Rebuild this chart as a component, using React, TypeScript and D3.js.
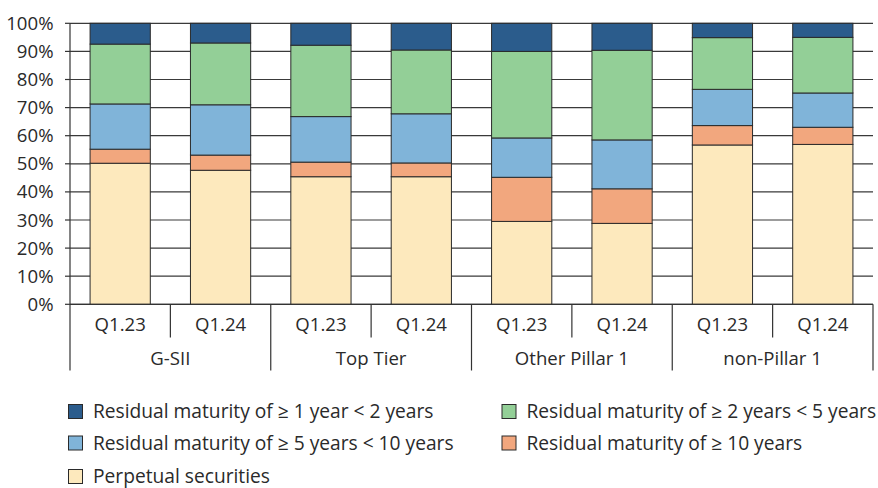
import React from "react";
import * as d3 from "d3";

const groups = ["G-SII", "Top Tier", "Other Pillar 1", "non-Pillar 1"];
const periods = ["Q1.23", "Q1.24"];
const seriesNames = [
  "Perpetual securities",
  "Residual maturity of ≥ 10 years",
  "Residual maturity of ≥ 5 years < 10 years",
  "Residual maturity of ≥ 2 years < 5 years",
  "Residual maturity of ≥ 1 year < 2 years",
];
const seriesColors = ["#fde9bd", "#f2a77e", "#80b4d9", "#93cf97", "#2b5c8c"];

// values in %, order: G-SII Q1.23, Q1.24, Top Tier Q1.23, Q1.24, Other P1 Q1.23, Q1.24, non-P1 Q1.23, Q1.24
const perpetual = [50.2, 47.7, 45.4, 45.4, 29.5, 28.8, 56.7, 56.9];
const over10 = [5.0, 5.4, 5.2, 4.9, 15.7, 12.3, 6.9, 6.1];
const from5to10 = [16.1, 17.9, 16.2, 17.5, 14.0, 17.4, 12.9, 12.2];
const from2to5 = [21.3, 22.0, 25.4, 22.7, 30.8, 31.9, 18.4, 19.8];
const from1to2 = [7.4, 7.0, 7.8, 9.5, 10.0, 9.6, 5.1, 5.0];

const yTicks = [0, 10, 20, 30, 40, 50, 60, 70, 80, 90, 100];

const legendOrder = [4, 3, 2, 1, 0];

export default function App() {
  const W = 878, H = 488;
  const left = 70, right = 873, top = 23.3, bottom = 304.3;
  const seriesData = [perpetual, over10, from5to10, from2to5, from1to2];
  const keys = groups.flatMap((g) => periods.map((p) => g + "|" + p));
  const rows = keys.map((k, i) => {
    const r: any = { key: k };
    seriesData.forEach((s, j) => (r["s" + j] = s[i]));
    return r;
  });
  const stack = d3.stack().keys(seriesData.map((_, j) => "s" + j));
  const stacked = stack(rows);
  const x = d3.scaleBand().domain(keys).range([left, right]).paddingInner(0.4).paddingOuter(0.2);
  const y = d3.scaleLinear().domain([0, 100]).range([bottom, top]);
  const gx = d3.scaleBand().domain(groups).range([left, right]);
  const font = "'Open Sans', sans-serif";
  const txt = "#2a2a2a";
  const axisFs = 18.6;
  const legendFs = 19.2;

  const legendPos = [
    { x: 68, y: 404 },
    { x: 501.5, y: 404 },
    { x: 68, y: 435.5 },
    { x: 501.5, y: 435.5 },
    { x: 68, y: 469 },
  ];

  return (
    <svg width={W} height={H} style={{ position: "absolute", left: 0, top: 0 }} fontFamily={font}>
      {/* gridlines */}
      {yTicks.map((t) => (
        <line key={t} x1={left} x2={right} y1={y(t)} y2={y(t)} stroke="#3a3a3a" strokeWidth={1.2} />
      ))}
      {yTicks.map((t) => (
        <line key={"tk" + t} x1={left - 5} x2={left} y1={y(t)} y2={y(t)} stroke="#333" strokeWidth={1.2} />
      ))}
      {yTicks.map((t) => (
        <text key={"l" + t} x={53.5} y={y(t)} dy="0.35em" textAnchor="end" fontSize={axisFs} fill={txt}>
          {t}%
        </text>
      ))}
      {/* bars */}
      {stacked.map((layer, j) =>
        layer.map((d, i) => (
          <rect
            key={j + "-" + i}
            x={x(keys[i])}
            width={x.bandwidth()}
            y={y(d[1])}
            height={y(d[0]) - y(d[1])}
            fill={seriesColors[j]}
            stroke="#2a2a2a"
            strokeWidth={1}
          />
        ))
      )}
      {/* axes */}
      <line x1={left} x2={left} y1={top} y2={bottom} stroke="#333" strokeWidth={1.2} />
      <line x1={left} x2={right} y1={bottom} y2={bottom} stroke="#333" strokeWidth={1.2} />
      {/* category separators */}
      {groups.map((g) => {
        const gx0 = gx(g)!;
        const mid = gx0 + gx.bandwidth() / 2;
        return (
          <g key={g}>
            <line x1={gx0} x2={gx0} y1={bottom} y2={370.5} stroke="#333" strokeWidth={1.2} />
            <line x1={mid} x2={mid} y1={bottom} y2={337.5} stroke="#333" strokeWidth={1.2} />
            <text x={mid} y={358} dy="0.35em" textAnchor="middle" fontSize={axisFs} fill={txt}>
              {g}
            </text>
          </g>
        );
      })}
      <line x1={right} x2={right} y1={bottom} y2={370.5} stroke="#333" strokeWidth={1.2} />
      {keys.map((k, i) => (
        <text key={k} x={x(k)! + x.bandwidth() / 2} y={324} dy="0.35em" textAnchor="middle" fontSize={axisFs} fill={txt}>
          {periods[i % 2]}
        </text>
      ))}
      {/* legend */}
      {legendOrder.map((si, li) => (
        <g key={si} transform={`translate(${legendPos[li].x},${legendPos[li].y})`}>
          <rect x={0.5} y={0.5} width={14} height={14} fill={seriesColors[si]} stroke="#2a2a2a" strokeWidth={1} />
          <text x={25} y={7.5} dy="0.35em" fontSize={legendFs} fill={txt}>
            {seriesNames[si]}
          </text>
        </g>
      ))}
    </svg>
  );
}
